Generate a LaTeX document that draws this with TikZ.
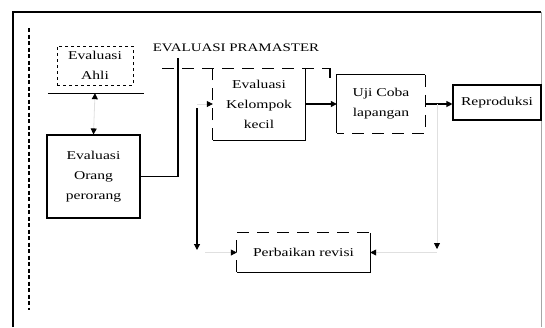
\documentclass[tikz,border=0pt]{standalone}
\usepackage{fontspec}
\setmainfont[FakeStretch=1.3]{Liberation Serif}
\usetikzlibrary{arrows.meta}

\tikzset{
  garis/.style={line width=1.1pt},
  putus/.style={line width=1pt, dash pattern=on 12pt off 8pt},
  samar/.style={draw=black!12, line width=0.8pt},
  kotak/.style={inner sep=0pt, align=center, font=\fontsize{12}{20}\selectfont},
}

\begin{document}
\begin{tikzpicture}[x=1pt,y=-1pt,>={Triangle[length=6pt,width=6pt,color=black,fill=black]}]
\useasboundingbox (0,0) rectangle (545,327);

% bingkai
\draw[line width=1.4pt] (13,327) -- (13,12) -- (541,12);
\draw[line width=1pt,black!35] (541,12) -- (541,327);
\draw[line width=1.2pt,dash pattern=on 4pt off 2.5pt] (29,28) -- (29,310);

% judul dan kurung
\node[font=\fontsize{11.5}{14}\selectfont] (judul) at (236,48) {EVALUASI PRAMASTER};
\draw[putus] (162,68) -- (330,68);
\draw[garis] (330,68) -- (330,78);

% Evaluasi Ahli
\node[kotak,draw,dashed,minimum width=76,minimum height=39] (ahli) at (95,65.5) {Evaluasi\\Ahli};
\draw[garis] ([xshift=-9pt,yshift=-8pt]ahli.south west) -- ([xshift=11pt,yshift=-8pt]ahli.south east);

% Evaluasi Orang perorang
\node[kotak,draw,garis,minimum width=93,minimum height=83] (orang) at (93.5,176.5) {Evaluasi\\Orang\\perorang};
\draw[samar,<->] ([yshift=-8pt]ahli.south) -- (orang.north);

% Evaluasi Kelompok kecil
\node[kotak,minimum width=92,minimum height=72] (kelompok) at (259,104) {Evaluasi\\Kelompok\\kecil};
\draw[garis] (kelompok.north east) -- (kelompok.south east) -- (kelompok.south west);
\draw[putus] (kelompok.south west) -- (kelompok.north west);

\coordinate (atas) at (178,58);
\draw[garis] (orang.east) -| (atas);
\coordinate (cabang) at (197,108);
\coordinate (bawah) at (197,250);
\draw[garis,->] (cabang) -- (bawah);
\draw[samar,->] (cabang |- kelompok.west) -- (kelompok.west);

% Uji Coba lapangan
\node[kotak,minimum width=88,minimum height=58] (uji) at (381,104) {Uji Coba\\lapangan};
\draw[garis] (uji.south west) -- (uji.north west) -- (uji.north east);
\draw[putus] (uji.north east) -- (uji.south east) -- (uji.south west);

% Reproduksi
\node[kotak,draw,garis,minimum width=88,minimum height=35] (repro) at (497,102.5) {Reproduksi};

\draw[garis,->] (kelompok.east) -- (uji.west);
\draw[garis,->] (uji.east) -- (uji.east -| repro.west);

% Perbaikan revisi
\node[kotak,minimum width=133,minimum height=39] (revisi) at (303.5,252.5) {Perbaikan revisi};
\draw[garis] (revisi.north east) -- (revisi.south east) -- (revisi.south west);
\draw[putus] (revisi.south west) -- (revisi.north west) -- (revisi.north east);

\coordinate (kiri) at (205,252.5);
\draw[samar,->] (kiri) -- (revisi.west);
\coordinate (kanan) at (437,104);
\coordinate (turun) at (437,249);
\draw[samar,->] (kanan) -- (turun);
\draw[samar,->] (turun |- revisi.east) -- (revisi.east);
\end{tikzpicture}
\end{document}
